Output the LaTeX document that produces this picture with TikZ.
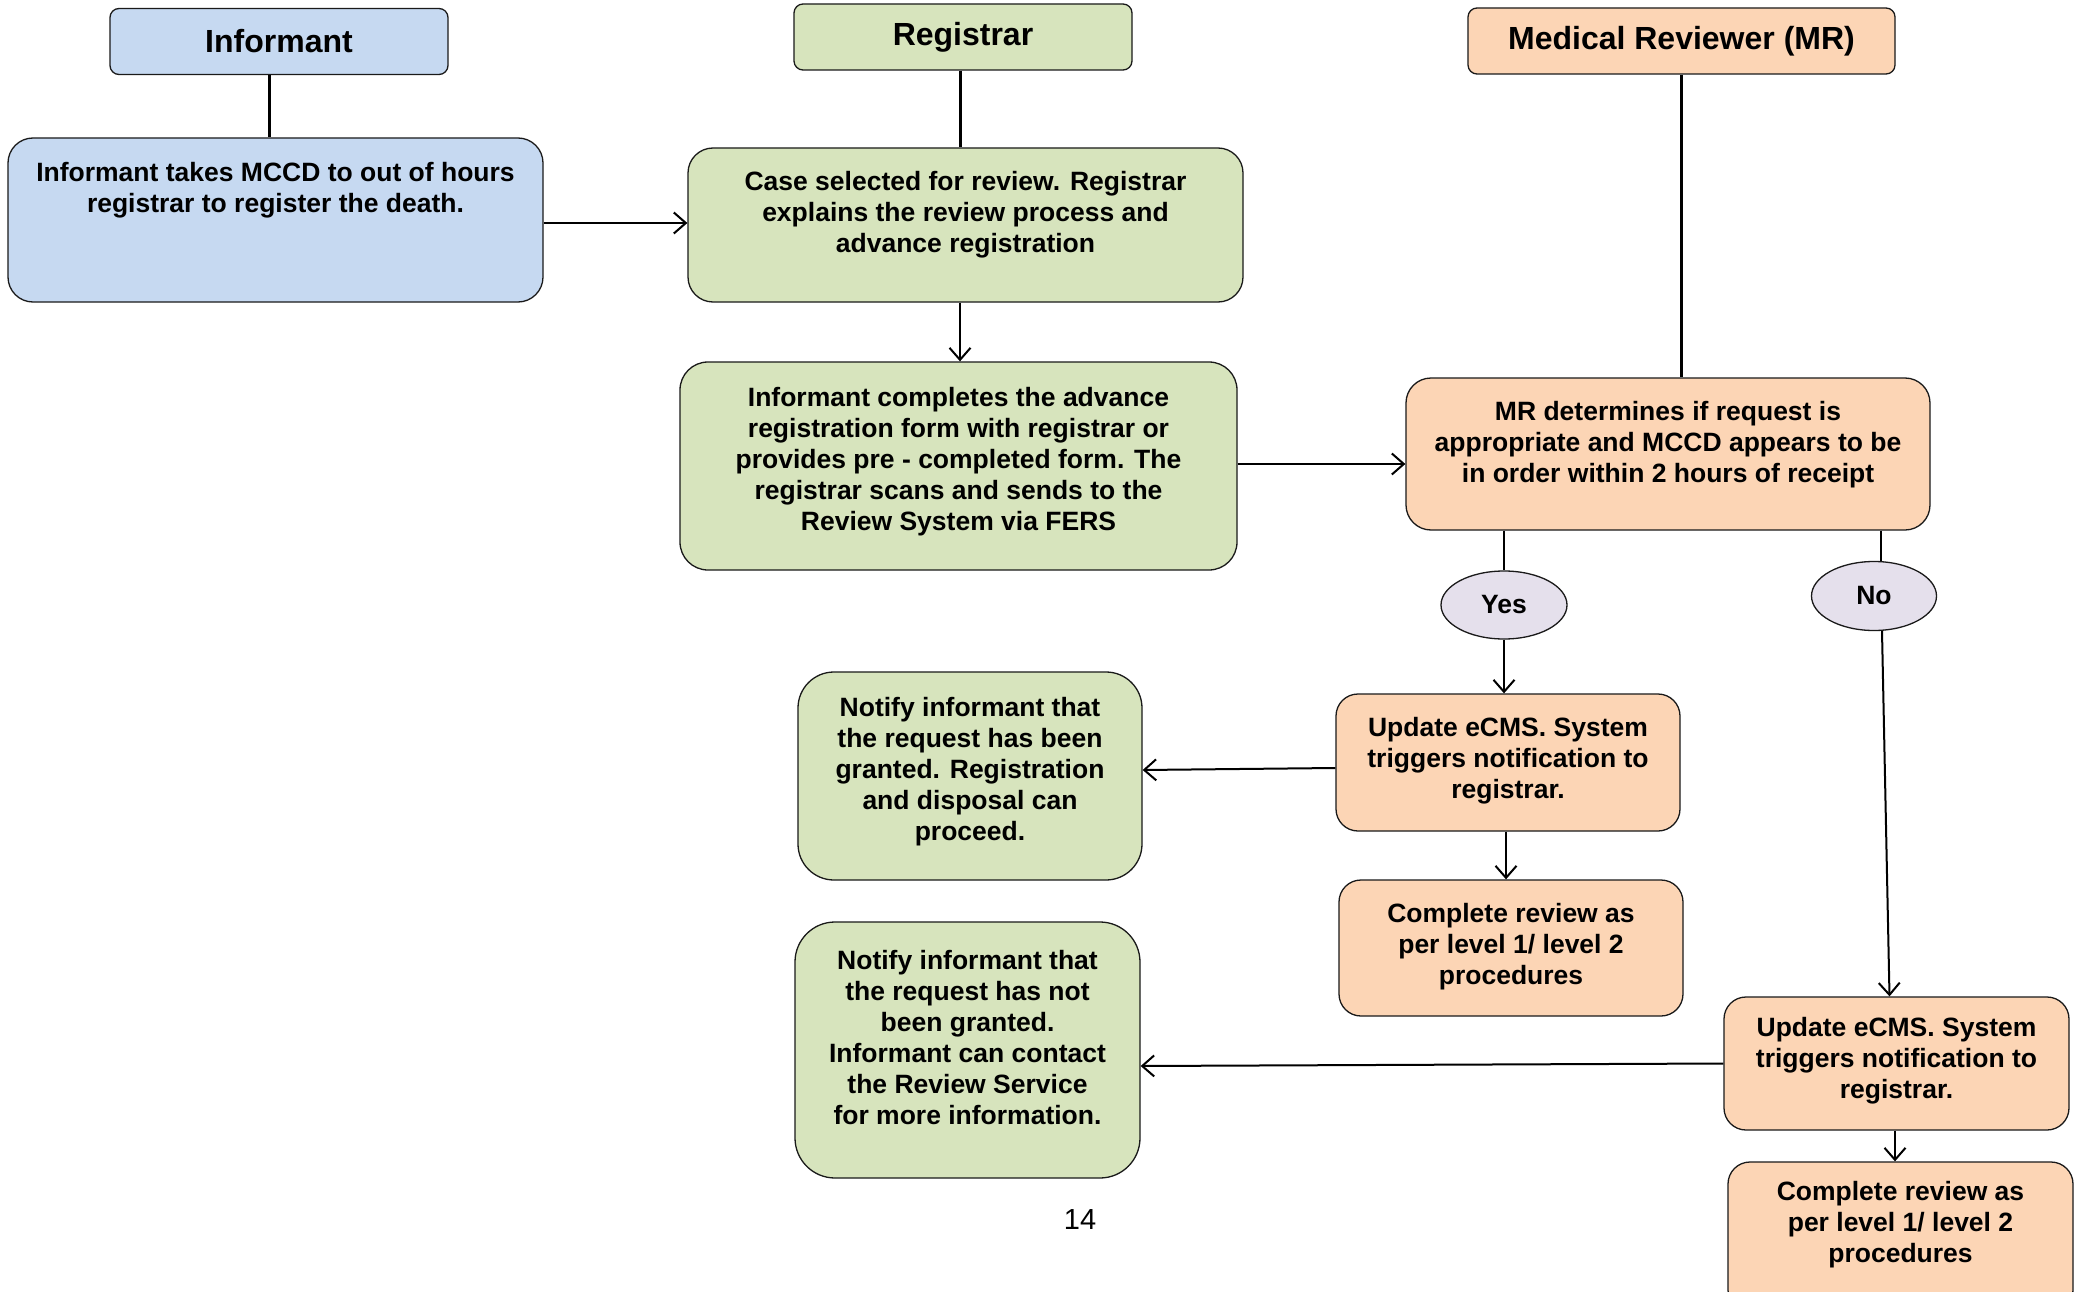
\documentclass[tikz,border=0pt]{standalone}
\usepackage{fontspec}
\setmainfont{Liberation Sans}
\usetikzlibrary{arrows.meta,shapes.geometric}
\definecolor{cblue}{HTML}{C6D9F1}
\definecolor{cgreen}{HTML}{D7E4BD}
\definecolor{corange}{HTML}{FCD5B5}
\definecolor{clav}{HTML}{E5E0EC}
\definecolor{cedge}{HTML}{1A1A1A}
\begin{document}
\begin{tikzpicture}[x=1pt,y=-1pt,
  box/.style={draw=cedge, line width=1.3pt, rounded corners=#1, inner sep=0pt},
  box/.default=25pt,
  hdr/.style={box=9pt, font=\fontsize{32}{38}\selectfont\bfseries, minimum height=66pt},
  txt/.style={align=center, inner sep=0pt, font=\fontsize{26.5}{31}\selectfont\bfseries},
  ell/.style={ellipse, draw=cedge, line width=1.3pt, fill=clav, inner sep=0pt,
    font=\fontsize{26.5}{31}\selectfont\bfseries, minimum width=126pt, minimum height=68pt},
  conn/.style={line width=3pt},
  link/.style={line width=2pt},
  arr/.style={line width=2pt, -{Straight Barb[length=12pt,width=21pt,line width=2pt]}},
]
\clip (0,0) rectangle (2078,1292);
\fill[white] (0,0) rectangle (2078,1292);

% headers
\node[hdr, fill=cblue, minimum width=338pt] (hInf) at (279,41.5) {Informant};
\node[hdr, fill=cgreen, minimum width=338pt] (hReg) at (963,37) {\raisebox{-2pt}{Registrar}};
\node[hdr, fill=corange, minimum width=427pt] (hMR) at (1681.5,41) {\raisebox{-2pt}{Medical Reviewer (MR)}};

% main boxes
\node[box, fill=cblue, minimum width=535pt, minimum height=164pt] (inf) at (275.5,220) {};
\node[txt] (infT) at (275.5,190) {Informant takes MCCD to out of hours\\registrar to register the death.};

\node[box, fill=cgreen, minimum width=555pt, minimum height=154pt] (case) at (965.5,225) {};
\node[txt] (caseT) at (965.5,215) {Case selected for review. Registrar\\explains the review process and\\advance registration};

\node[box=28pt, fill=cgreen, minimum width=557pt, minimum height=208pt] (comp) at (958.5,466) {};
\node[txt] (compT) at (958.5,462) {Informant completes the advance\\registration form with registrar or\\provides pre - completed form. The\\registrar scans and sends to the\\Review System via FERS};

\node[box, fill=corange, minimum width=524pt, minimum height=152pt] (mr) at (1668,454) {};
\node[txt] (mrT) at (1668,445) {MR determines if request is\\appropriate and MCCD appears to be\\in order within 2 hours of receipt};

\node[ell] (yes) at (1504,605) {\raisebox{-1pt}{Yes}};
\node[ell, minimum width=125pt, minimum height=69pt] (no) at (1874,596) {No};

\node[box=22pt, fill=corange, minimum width=344pt, minimum height=137pt] (up1) at (1508,762.5) {};
\node[txt] (up1T) at (1508,761) {Update eCMS. System\\triggers notification to\\registrar.};

\node[box=22pt, fill=corange, minimum width=344pt, minimum height=136pt] (c1) at (1511,948) {};
\node[txt] (c1T) at (1511,947) {Complete review as\\per level 1/ level 2\\procedures};

\node[box=36pt, fill=cgreen, minimum width=344pt, minimum height=208pt] (n1) at (970,776) {};
\node[txt] (n1T) at (970,772) {Notify informant that\\the request has been\\granted. Registration\\and disposal can\\proceed.};

\node[box=40pt, fill=cgreen, minimum width=345pt, minimum height=256pt] (n2) at (967.5,1050) {};
\node[txt] (n2T) at (967.5,1038) {Notify informant that\\the request has not\\been granted.\\Informant can contact\\the Review Service\\for more information.};

\node[box=22pt, fill=corange, minimum width=345pt, minimum height=133pt] (up2) at (1896.5,1063.5) {};
\node[txt] (up2T) at (1896.5,1061) {Update eCMS. System\\triggers notification to\\registrar.};

\node[box=22pt, fill=corange, minimum width=345pt, minimum height=150pt] (c2) at (1900.5,1237) {};
\node[txt] (c2T) at (1900.5,1225) {Complete review as\\per level 1/ level 2\\procedures};

\node[inner sep=0pt, font=\fontsize{29}{34}\selectfont] (pg) at (1080,1220) {14};

% header connectors
\draw[conn] ([xshift=-10pt]hInf.south) -- ([xshift=-10pt]hInf.south |- inf.north);
\draw[conn] ([xshift=-3pt]hReg.south) -- ([xshift=-3pt]hReg.south |- case.north);
\draw[conn] (hMR.south) -- (hMR.south |- mr.north);

% flow
\draw[arr] (inf.east |- 0,223) -- (case.west |- 0,223);
\draw[arr] ([xshift=-5.5pt]case.south) -- ([xshift=-5.5pt]case.south |- comp.north);
\draw[arr] ([yshift=2pt]comp.east) -- ([yshift=2pt]comp.east -| mr.west);
\draw[link] (yes.north |- mr.south) -- (yes.north);
\draw[arr] (yes.south) -- (yes.south |- up1.north);
\draw[link] ([xshift=7pt]no.north |- mr.south) -- ([xshift=7pt]no.north);
\draw[arr] ([xshift=8pt]no.south) -- ([xshift=-7pt]up2.north);
\draw[arr] ([yshift=-5.5pt]up1.west) -- ([yshift=6pt]n1.east);
\draw[arr] ([xshift=-2pt]up1.south) -- ([xshift=-2pt]up1.south |- c1.north);
\draw[arr] (up2.west) -- ([yshift=-16pt]n2.east);
\draw[arr] ([xshift=-1.5pt]up2.south) -- ([xshift=-1.5pt]up2.south |- c2.north);
\end{tikzpicture}
\end{document}
